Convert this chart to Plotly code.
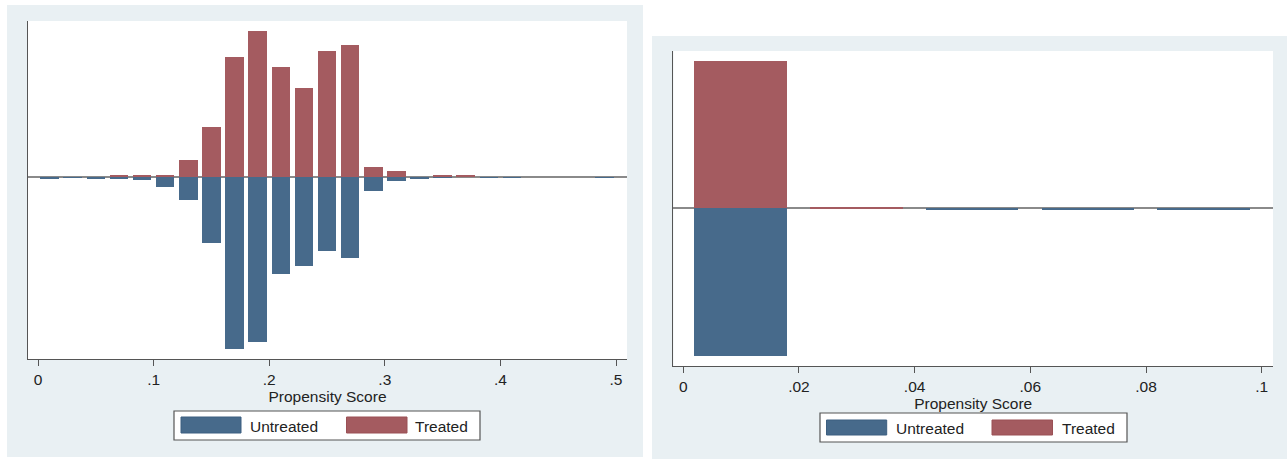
import plotly.graph_objects as go

# ---------------- data ----------------
# Left panel: bins of width 0.02 (centres), share of observations per bin
left_centers = [0.01, 0.03, 0.05, 0.07, 0.09, 0.11, 0.13, 0.15, 0.17, 0.19,
                0.21, 0.23, 0.25, 0.27, 0.29, 0.31, 0.33, 0.35, 0.37, 0.39,
                0.41, 0.43, 0.45, 0.47, 0.49]
left_treated = [0.0, 0.0, 0.0, 0.002, 0.002, 0.003, 0.021, 0.062, 0.149, 0.181,
                0.137, 0.110, 0.156, 0.164, 0.013, 0.007, 0.0, 0.002, 0.002, 0.0,
                0.0, 0.0, 0.0, 0.0, 0.0]
left_untreated = [0.0025, 0.0012, 0.0025, 0.002, 0.004, 0.013, 0.028, 0.082, 0.214, 0.205,
                  0.121, 0.111, 0.092, 0.101, 0.018, 0.005, 0.003, 0.001, 0.0, 0.0012,
                  0.0012, 0.0, 0.0, 0.0, 0.0012]
left_tickvals = [0, 0.1, 0.2, 0.3, 0.4, 0.5]
left_ticktext = ["0", ".1", ".2", ".3", ".4", ".5"]

# Right panel
right_centers = [0.01, 0.03, 0.05, 0.07, 0.09]
right_treated = [0.990, 0.008, 0.0, 0.0, 0.0]
right_untreated = [0.992, 0.0, 0.008, 0.008, 0.008]
right_tickvals = [0, 0.02, 0.04, 0.06, 0.08, 0.1]
right_ticktext = ["0", ".02", ".04", ".06", ".08", ".1"]

series_names = ["Untreated", "Treated"]
x_title = "Propensity Score"

# ---------------- style ----------------
W, H = 1287, 459
BLUE = "#476a8b"
RED = "#a45b60"
BG = "#e9f0f3"
AXIS = "#555555"
FONT = "Liberation Sans, Arial, sans-serif"
TXT = "#222222"
FS = 15.5
BAR_W = 0.016


def fx(px):
    return px / W


def fy(py):
    return 1 - py / H


fig = go.Figure()

fig.add_trace(go.Bar(x=left_centers, y=left_treated, width=BAR_W, name=series_names[1],
                     marker=dict(color=RED, line=dict(width=0)),
                     xaxis="x", yaxis="y", showlegend=False))
fig.add_trace(go.Bar(x=left_centers, y=[-v for v in left_untreated], width=BAR_W,
                     name=series_names[0],
                     marker=dict(color=BLUE, line=dict(width=0)),
                     xaxis="x", yaxis="y", showlegend=False))
fig.add_trace(go.Bar(x=right_centers, y=right_treated, width=BAR_W, name=series_names[1],
                     marker=dict(color=RED, line=dict(width=0)),
                     xaxis="x2", yaxis="y2", showlegend=False))
fig.add_trace(go.Bar(x=right_centers, y=[-v for v in right_untreated], width=BAR_W,
                     name=series_names[0],
                     marker=dict(color=BLUE, line=dict(width=0)),
                     xaxis="x2", yaxis="y2", showlegend=False))

xcommon = dict(showline=True, linecolor=AXIS, linewidth=1.2, ticks="outside", ticklen=6,
               tickcolor=AXIS, tickwidth=1.2, showgrid=False, zeroline=False,
               tickfont=dict(family=FONT, size=FS, color=TXT),
               title=dict(text=x_title, font=dict(family=FONT, size=FS, color=TXT), standoff=1))
ycommon = dict(showline=True, linecolor=AXIS, linewidth=1.2, showticklabels=False,
               ticks="", showgrid=False, zeroline=True, zerolinecolor="#8a8a8a",
               zerolinewidth=1.5)

L_PLOT = (28, 627, 21, 359)      # x0, x1, ytop, ybottom in pixels
R_PLOT = (673.4, 1273, 51, 366)

fig.update_layout(
    width=W, height=H,
    margin=dict(l=0, r=0, t=0, b=0),
    paper_bgcolor="white", plot_bgcolor="white",
    barmode="overlay",
    bargap=0,
    xaxis=dict(domain=[fx(L_PLOT[0]), fx(L_PLOT[1])], range=[-0.00865, 0.5095], anchor="y",
               tickvals=left_tickvals, ticktext=left_ticktext, **xcommon),
    yaxis=dict(domain=[fy(L_PLOT[3]), fy(L_PLOT[2])], range=[-0.2261, 0.1938], anchor="x",
               **ycommon),
    xaxis2=dict(domain=[fx(R_PLOT[0]), fx(R_PLOT[1])], range=[-0.0017, 0.10195], anchor="y2",
                tickvals=right_tickvals, ticktext=right_ticktext, **xcommon),
    yaxis2=dict(domain=[fy(R_PLOT[3]), fy(R_PLOT[2])], range=[-1.06, 1.054], anchor="x2",
                **ycommon),
)

shapes = []
# panel backgrounds
shapes.append(dict(type="rect", xref="paper", yref="paper", layer="below",
                   x0=fx(7), x1=fx(643), y0=fy(457), y1=fy(5),
                   fillcolor=BG, line=dict(width=0)))
shapes.append(dict(type="rect", xref="paper", yref="paper", layer="below",
                   x0=fx(652), x1=fx(1287), y0=fy(459), y1=fy(36),
                   fillcolor=BG, line=dict(width=0)))
# white plot regions
for p in (L_PLOT, R_PLOT):
    shapes.append(dict(type="rect", xref="paper", yref="paper", layer="below",
                       x0=fx(p[0]), x1=fx(p[1]), y0=fy(p[3]), y1=fy(p[2]),
                       fillcolor="white", line=dict(width=0)))

annotations = []


def add_legend(box, sw_blue, sw_red, txt_blue_x, txt_red_x, ymid, sw_y):
    shapes.append(dict(type="rect", xref="paper", yref="paper",
                       x0=fx(box[0]), x1=fx(box[1]), y0=fy(box[3]), y1=fy(box[2]),
                       fillcolor="white", line=dict(color=AXIS, width=1.2)))
    shapes.append(dict(type="rect", xref="paper", yref="paper",
                       x0=fx(sw_blue[0]), x1=fx(sw_blue[1]), y0=fy(sw_y[1]), y1=fy(sw_y[0]),
                       fillcolor=BLUE, line=dict(color="#3d5f80", width=1)))
    shapes.append(dict(type="rect", xref="paper", yref="paper",
                       x0=fx(sw_red[0]), x1=fx(sw_red[1]), y0=fy(sw_y[1]), y1=fy(sw_y[0]),
                       fillcolor=RED, line=dict(color="#9a5055", width=1)))
    annotations.append(dict(xref="paper", yref="paper", x=fx(txt_blue_x), y=fy(ymid),
                            text=series_names[0], showarrow=False, xanchor="left",
                            yanchor="middle", font=dict(family=FONT, size=FS, color=TXT)))
    annotations.append(dict(xref="paper", yref="paper", x=fx(txt_red_x), y=fy(ymid),
                            text=series_names[1], showarrow=False, xanchor="left",
                            yanchor="middle", font=dict(family=FONT, size=FS, color=TXT)))


add_legend((174, 480, 411, 440), (181, 241), (346.5, 407), 248, 413, 426, (417, 433))
add_legend((820, 1127, 413, 442), (826.5, 886.7), (992, 1052.5), 894, 1060, 428, (420, 435))

fig.update_layout(shapes=shapes, annotations=annotations)

fig.write_html("out.html",
               config={"displayModeBar": False},
               post_script="document.body.style.margin='0';document.body.style.padding='0';")
